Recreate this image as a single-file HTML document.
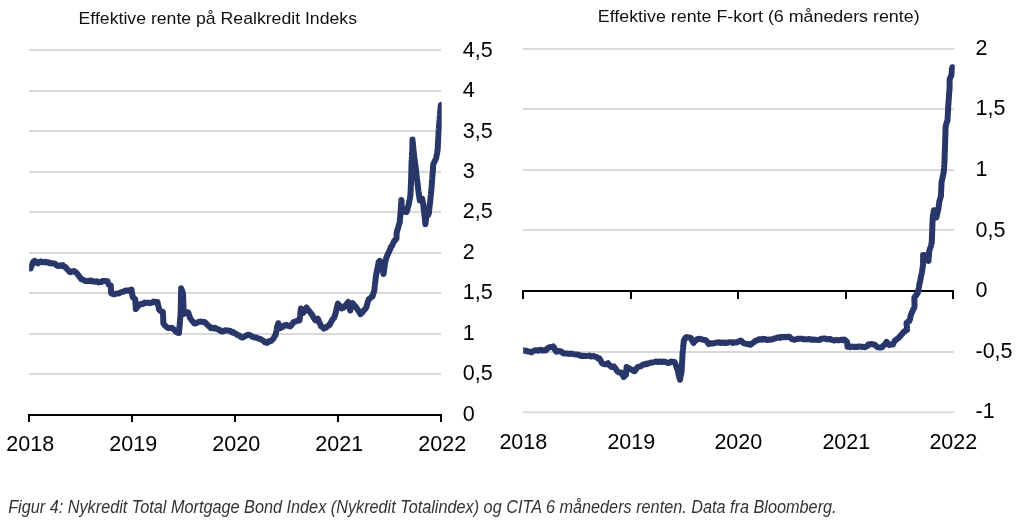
<!DOCTYPE html>
<html><head><meta charset="utf-8"><title>Figur 4</title>
<style>
html,body{margin:0;padding:0;background:#fff;}
body{width:1021px;height:526px;overflow:hidden;font-family:"Liberation Sans",sans-serif;}
svg{display:block;position:absolute;left:0;top:0;}
.tx{will-change:transform;}
text{font-family:"Liberation Sans",sans-serif;}
.ax{font-size:21.5px;fill:#000;}
.tt{font-size:16.2px;fill:#111;}
.cap{font-size:18px;font-style:italic;fill:#333;}
</style></head><body>
<svg width="1021" height="526" viewBox="0 0 1021 526">
<defs>
<clipPath id="cl"><rect x="29.1" y="40" width="412.6" height="390"/></clipPath>
<clipPath id="cr"><rect x="523.2" y="40" width="431.6" height="390"/></clipPath>
</defs>
<rect width="1021" height="526" fill="#fff"/>
<rect x="29" y="49.00" width="412" height="2" fill="#D9D9D9"/>
<rect x="29" y="90.00" width="412" height="2" fill="#D9D9D9"/>
<rect x="29" y="130.00" width="412" height="2" fill="#D9D9D9"/>
<rect x="29" y="171.00" width="412" height="2" fill="#D9D9D9"/>
<rect x="29" y="211.00" width="412" height="2" fill="#D9D9D9"/>
<rect x="29" y="252.00" width="412" height="2" fill="#D9D9D9"/>
<rect x="29" y="292.00" width="412" height="2" fill="#D9D9D9"/>
<rect x="29" y="333.00" width="412" height="2" fill="#D9D9D9"/>
<rect x="29" y="373.00" width="412" height="2" fill="#D9D9D9"/>
<rect x="28" y="414" width="414" height="2" fill="#000"/>
<rect x="28" y="414" width="2" height="8" fill="#000"/>
<rect x="131" y="414" width="2" height="8" fill="#000"/>
<rect x="234" y="414" width="2" height="8" fill="#000"/>
<rect x="337" y="414" width="2" height="8" fill="#000"/>
<rect x="440" y="414" width="2" height="8" fill="#000"/>
<g clip-path="url(#cl)"><path d="M30.6,268.4 L31.1,266.7 L31.6,265.8 L32.1,264.9 L32.6,263.5 L33.1,261.9 L34.7,260.8 L35.8,261.4 L36.9,262.6 L38.0,263.5 L39.4,262.4 L40.7,261.4 L42.2,261.8 L43.7,262.3 L45.2,261.8 L46.7,262.5 L48.2,262.2 L49.7,263.3 L51.3,263.0 L52.8,263.6 L54.3,263.5 L55.4,263.8 L56.4,265.1 L57.5,266.0 L58.9,266.0 L60.2,265.3 L61.5,265.9 L62.9,265.2 L64.0,266.7 L65.1,266.8 L66.2,267.9 L67.3,269.5 L68.4,270.4 L69.4,271.8 L70.5,272.2 L71.8,271.7 L73.0,271.2 L74.3,271.1 L75.2,272.0 L76.2,272.5 L77.1,273.6 L78.1,274.9 L78.9,275.9 L79.7,277.1 L80.5,277.9 L81.3,279.3 L82.6,279.5 L83.8,280.1 L85.1,280.9 L86.7,280.9 L88.4,280.7 L90.0,280.9 L91.4,280.5 L92.8,281.6 L94.2,281.4 L95.6,281.7 L97.0,281.3 L98.4,282.4 L99.8,282.0 L101.2,282.1 L102.5,281.0 L103.8,281.0 L105.2,280.9 L107.6,281.2 L108.1,283.1 L108.6,284.6 L110.8,285.6 L110.9,287.4 L110.9,289.2 L111.0,290.1 L111.0,292.1 L111.1,293.3 L112.8,294.0 L114.4,294.4 L115.8,293.7 L117.1,293.6 L118.5,293.5 L119.8,293.0 L121.2,292.2 L122.5,291.7 L124.0,291.5 L125.5,290.5 L127.1,290.5 L128.6,290.7 L130.1,290.1 L131.5,289.6 L131.7,290.9 L131.9,292.1 L132.2,293.9 L132.4,295.5 L132.6,296.7 L133.9,298.2 L135.3,299.4 L135.4,300.6 L135.4,302.1 L135.5,303.6 L135.6,305.2 L135.7,306.4 L135.7,307.6 L135.8,309.1 L136.9,307.8 L138.0,306.0 L139.1,305.3 L140.4,304.1 L141.8,304.2 L143.2,303.8 L144.5,302.6 L145.8,302.9 L147.2,302.8 L148.6,302.7 L149.9,303.2 L151.2,302.6 L152.4,302.6 L153.7,301.5 L155.6,302.1 L157.5,302.1 L157.8,303.7 L158.1,305.5 L158.5,306.4 L158.8,308.2 L159.1,309.7 L160.4,311.0 L161.6,311.3 L162.9,312.0 L163.0,313.4 L163.0,314.6 L163.1,316.4 L163.2,318.3 L163.2,318.6 L163.3,320.9 L163.3,322.4 L163.4,323.5 L164.5,325.0 L165.6,326.0 L166.7,327.1 L167.8,327.9 L169.1,327.9 L170.5,327.9 L171.8,327.8 L173.0,328.9 L174.3,329.6 L175.5,331.3 L177.2,332.6 L179.0,333.0 L179.1,331.7 L179.2,330.0 L179.3,329.0 L179.5,327.6 L179.6,326.1 L179.7,324.7 L179.8,323.6 L179.9,322.3 L180.0,321.0 L180.1,319.5 L180.3,317.6 L180.4,316.5 L180.5,315.1 L180.6,314.1 L180.6,312.8 L180.7,311.8 L180.7,310.4 L180.7,309.0 L180.8,307.7 L180.8,305.7 L180.8,305.0 L180.9,303.4 L180.9,301.4 L180.9,300.0 L180.9,298.6 L181.0,298.1 L181.0,296.2 L181.0,294.7 L181.1,293.9 L181.1,292.2 L181.1,290.5 L181.2,289.3 L181.2,288.3 L181.6,289.6 L182.1,290.5 L182.6,291.9 L183.0,293.4 L183.1,295.0 L183.1,296.1 L183.2,297.3 L183.2,298.9 L183.3,299.7 L183.3,301.5 L183.4,302.9 L183.4,304.0 L183.5,305.3 L183.5,307.6 L183.6,308.5 L183.6,309.6 L183.7,311.4 L183.7,313.0 L183.8,314.0 L185.2,312.9 L186.6,312.3 L188.0,312.2 L188.5,313.2 L188.9,315.1 L189.4,315.9 L189.9,317.6 L190.8,319.0 L191.6,320.2 L192.5,321.2 L193.3,322.0 L194.2,323.5 L195.7,323.4 L197.3,322.6 L198.8,321.7 L200.2,321.8 L201.7,321.5 L203.1,322.0 L204.5,321.9 L205.6,322.8 L206.6,324.1 L207.7,324.9 L208.7,326.2 L209.8,326.7 L210.8,328.2 L212.2,327.8 L213.7,328.4 L215.1,327.8 L216.3,328.8 L217.5,328.9 L218.8,330.1 L220.0,330.1 L221.2,331.4 L222.4,331.6 L223.7,331.2 L225.0,330.3 L226.4,330.4 L227.9,330.4 L229.3,330.9 L230.6,330.9 L231.9,332.4 L233.2,332.0 L234.5,333.4 L235.8,333.6 L237.0,334.9 L238.2,335.2 L239.4,335.5 L240.6,337.0 L241.8,337.4 L243.1,337.4 L244.4,336.5 L245.7,335.8 L247.0,335.1 L248.3,334.7 L249.6,335.1 L250.8,335.5 L252.1,336.6 L253.3,336.9 L254.6,337.5 L255.9,337.5 L257.2,337.8 L258.4,338.8 L259.7,338.8 L261.0,339.4 L262.3,340.2 L263.6,340.9 L265.0,342.3 L266.3,342.7 L267.6,342.7 L268.8,341.3 L270.1,341.1 L271.3,341.0 L272.2,339.6 L273.0,339.2 L273.9,337.8 L274.7,336.1 L275.6,335.1 L275.9,333.3 L276.1,332.4 L276.4,331.1 L276.7,329.8 L276.9,327.7 L277.2,326.4 L277.8,325.2 L278.3,323.2 L278.9,324.6 L279.4,325.6 L279.9,327.3 L280.5,328.0 L281.7,327.1 L282.9,327.0 L284.0,325.6 L285.2,325.1 L286.4,324.8 L287.7,325.8 L288.9,325.6 L290.2,326.4 L291.0,325.6 L291.9,324.4 L292.7,323.6 L293.5,322.1 L295.0,321.6 L296.4,321.1 L297.9,320.7 L299.4,320.5 L299.6,319.6 L299.8,317.9 L299.9,317.0 L300.1,315.6 L300.3,313.4 L300.5,312.6 L300.6,310.7 L300.8,309.3 L301.0,308.5 L301.7,309.5 L302.5,311.8 L303.2,312.9 L304.0,311.9 L304.9,310.6 L305.7,308.7 L306.5,307.5 L307.3,308.7 L308.1,310.0 L308.9,310.6 L309.7,311.9 L310.5,312.6 L311.3,314.0 L312.0,314.6 L312.8,315.9 L313.5,317.7 L314.2,318.4 L315.0,319.9 L315.7,320.5 L316.8,319.6 L317.8,318.8 L318.4,319.8 L318.9,321.6 L319.5,323.0 L320.0,323.3 L320.6,325.3 L321.1,326.4 L322.5,327.1 L323.8,328.6 L325.0,327.5 L326.2,327.7 L327.5,326.1 L328.7,325.9 L329.4,324.5 L330.2,324.1 L330.9,322.4 L331.6,320.9 L332.4,319.8 L333.1,318.7 L333.9,318.1 L334.6,316.7 L334.9,315.0 L335.3,314.6 L335.6,312.7 L335.9,312.0 L336.2,310.7 L336.6,308.7 L336.9,307.3 L337.2,306.3 L337.6,304.6 L337.9,303.7 L338.8,305.1 L339.8,305.6 L340.8,306.8 L341.7,308.5 L343.3,308.0 L344.9,306.4 L345.7,305.1 L346.5,304.3 L347.4,303.0 L348.2,302.0 L348.6,303.2 L348.9,304.4 L349.2,306.7 L349.6,308.2 L349.9,309.6 L350.3,310.5 L350.7,308.8 L351.0,307.7 L351.4,306.9 L351.8,306.0 L352.1,304.3 L352.5,303.0 L353.6,304.5 L354.7,305.7 L355.8,306.8 L356.6,307.8 L357.3,309.3 L358.1,310.3 L358.9,311.5 L359.6,312.5 L360.4,314.2 L361.3,312.9 L362.3,312.6 L363.2,310.9 L364.2,310.0 L365.2,308.9 L366.1,307.7 L366.5,306.9 L366.9,305.1 L367.3,303.8 L367.6,302.5 L368.0,301.3 L368.4,300.6 L368.8,299.0 L370.1,298.5 L371.3,297.0 L372.6,296.3 L373.0,294.6 L373.5,293.3 L373.9,291.9 L374.3,290.3 L374.5,289.0 L374.6,287.2 L374.8,285.6 L374.9,284.4 L375.1,282.8 L375.3,282.0 L375.4,280.0 L375.6,278.6 L375.7,277.8 L375.9,276.3 L376.1,274.8 L376.4,274.1 L376.6,272.4 L376.9,271.6 L377.1,269.5 L377.4,268.6 L377.6,267.7 L377.9,265.6 L378.1,265.3 L378.4,263.1 L378.6,262.2 L379.7,260.8 L381.5,262.5 L381.7,264.1 L381.9,265.6 L382.2,266.7 L382.4,267.5 L382.6,268.5 L382.8,270.2 L383.1,272.0 L383.3,272.6 L383.5,274.1 L383.7,273.2 L383.9,271.0 L384.1,270.5 L384.3,268.2 L384.4,267.2 L384.6,266.5 L384.8,265.0 L385.0,263.8 L385.2,262.0 L385.5,261.1 L385.9,259.7 L386.2,258.1 L386.7,257.1 L387.3,255.3 L387.8,254.4 L388.4,252.8 L388.9,252.2 L389.4,250.9 L390.0,249.3 L390.5,248.3 L391.1,246.6 L391.8,246.3 L392.4,244.9 L393.0,243.4 L393.7,242.1 L394.3,240.8 L395.4,240.1 L396.5,238.6 L396.5,237.1 L396.6,235.7 L396.6,234.2 L396.6,233.0 L397.0,231.4 L397.4,229.7 L397.8,229.0 L398.2,227.4 L398.6,226.2 L399.0,224.3 L399.4,223.2 L399.8,222.0 L399.9,220.2 L400.0,218.7 L400.1,217.4 L400.3,216.6 L400.4,214.7 L400.5,213.3 L400.6,212.0 L400.7,210.8 L400.8,209.0 L400.9,207.4 L401.0,206.7 L401.0,205.3 L401.1,204.1 L401.2,202.5 L401.3,201.4 L401.4,199.9 L401.5,201.6 L401.6,202.5 L401.6,204.2 L401.7,205.6 L401.8,206.8 L401.9,208.5 L402.9,210.0 L404.0,211.6 L406.5,212.2 L406.9,210.9 L407.3,210.0 L407.6,208.7 L408.0,206.7 L408.4,205.8 L408.8,204.3 L409.1,202.3 L409.3,200.9 L409.6,199.9 L409.9,198.8 L410.1,196.6 L410.4,195.5 L410.5,194.4 L410.5,193.2 L410.6,191.1 L410.7,190.2 L410.7,189.0 L410.8,187.1 L410.8,186.0 L410.9,184.7 L411.0,183.2 L411.0,182.1 L411.1,180.3 L411.1,179.4 L411.2,178.2 L411.2,176.5 L411.2,174.7 L411.3,173.5 L411.3,172.2 L411.3,171.3 L411.4,170.2 L411.4,168.1 L411.4,167.5 L411.5,166.2 L411.5,164.5 L411.5,163.4 L411.6,161.7 L411.6,160.8 L411.7,159.7 L411.8,157.6 L411.9,157.3 L412.0,155.7 L412.0,154.2 L412.1,152.4 L412.2,151.8 L412.3,150.0 L412.3,149.2 L412.4,147.0 L412.4,146.4 L412.4,145.2 L412.4,143.7 L412.4,142.4 L412.5,140.8 L412.5,139.6 L412.6,141.4 L412.8,142.7 L412.9,143.4 L413.0,145.1 L413.1,146.0 L413.2,147.0 L413.4,148.5 L413.5,150.0 L413.7,151.0 L413.8,153.3 L414.0,154.8 L414.1,155.3 L414.3,157.3 L414.4,158.5 L414.6,160.0 L414.8,160.9 L415.0,162.4 L415.1,163.6 L415.3,165.5 L415.5,166.0 L415.7,167.5 L415.8,169.0 L416.0,169.9 L416.2,171.7 L416.3,173.1 L416.5,174.4 L416.6,176.0 L416.8,176.6 L416.9,178.0 L417.1,179.6 L417.2,180.6 L417.4,182.3 L417.6,183.2 L417.7,185.0 L417.9,186.4 L418.0,187.7 L418.2,189.2 L418.3,190.0 L418.5,191.4 L418.7,192.6 L418.9,194.3 L419.1,195.5 L419.2,196.6 L419.4,197.7 L419.6,198.9 L419.8,200.5 L421.0,199.2 L422.2,198.8 L422.5,200.7 L422.8,201.5 L423.0,203.7 L423.3,205.0 L423.5,206.5 L423.6,208.4 L423.8,209.6 L424.0,211.2 L424.2,211.7 L424.3,213.6 L424.5,215.0 L424.6,216.4 L424.8,217.4 L424.9,218.9 L425.0,220.1 L425.1,221.6 L425.3,222.3 L425.4,224.2 L425.6,222.7 L425.8,221.3 L425.9,219.7 L426.1,218.3 L426.3,217.0 L427.1,216.1 L428.0,214.9 L428.8,213.5 L429.0,212.1 L429.1,210.8 L429.3,209.1 L429.5,207.5 L429.6,205.9 L429.8,205.0 L429.9,203.4 L430.1,202.4 L430.2,201.3 L430.3,199.9 L430.5,198.2 L430.6,197.4 L430.8,195.5 L430.9,194.5 L431.0,192.7 L431.2,191.7 L431.3,190.6 L431.4,188.5 L431.6,187.0 L431.7,186.0 L431.8,184.8 L431.9,183.3 L432.0,181.7 L432.1,180.0 L432.2,179.0 L432.3,177.7 L432.4,176.3 L432.5,175.4 L432.6,173.8 L432.7,172.6 L432.8,171.4 L432.9,169.8 L433.0,168.2 L433.1,167.1 L433.2,165.6 L433.3,164.1 L434.0,162.9 L434.6,161.5 L435.3,159.9 L436.0,158.7 L436.3,157.4 L436.5,155.9 L436.8,154.8 L437.1,153.2 L437.3,151.8 L437.6,150.0 L437.7,148.9 L437.8,147.6 L437.8,146.0 L437.9,144.3 L438.0,142.9 L438.1,142.0 L438.1,140.8 L438.2,139.1 L438.3,137.3 L438.4,136.7 L438.5,134.9 L438.5,133.5 L438.6,131.7 L438.7,130.8 L438.8,129.4 L438.9,128.2 L439.0,126.5 L439.1,125.0 L439.2,123.9 L439.4,121.8 L439.5,120.9 L439.6,120.0 L439.7,118.3 L439.8,116.7 L439.9,115.3 L440.0,114.3 L440.1,112.9 L440.2,111.2 L440.4,109.9 L440.5,109.3 L440.6,107.3 L440.7,105.8 L440.8,105.0" fill="none" stroke="#28366A" stroke-width="6" stroke-linejoin="round" stroke-linecap="round"/></g>
<rect x="523" y="48.00" width="431" height="2" fill="#D9D9D9"/>
<rect x="523" y="108.00" width="431" height="2" fill="#D9D9D9"/>
<rect x="523" y="169.00" width="431" height="2" fill="#D9D9D9"/>
<rect x="523" y="229.00" width="431" height="2" fill="#D9D9D9"/>
<rect x="523" y="351.00" width="431" height="2" fill="#D9D9D9"/>
<rect x="523" y="411.30" width="431" height="2" fill="#D9D9D9"/>
<rect x="522" y="290" width="432" height="2" fill="#000"/>
<rect x="522" y="290" width="2" height="9" fill="#000"/>
<rect x="630" y="290" width="2" height="9" fill="#000"/>
<rect x="737" y="290" width="2" height="9" fill="#000"/>
<rect x="845" y="290" width="2" height="9" fill="#000"/>
<rect x="952" y="290" width="2" height="9" fill="#000"/>
<g clip-path="url(#cr)"><path d="M521.0,350.4 L522.7,350.1 L524.3,350.9 L526.0,350.6 L527.2,351.3 L528.5,351.5 L530.0,351.7 L531.5,352.4 L532.9,351.4 L534.3,350.4 L535.6,350.3 L536.9,350.5 L538.3,350.7 L539.6,349.9 L540.9,349.8 L542.2,350.6 L543.6,350.2 L544.9,350.5 L546.2,350.2 L547.5,348.3 L548.9,347.5 L550.3,347.1 L551.8,347.0 L553.2,346.4 L554.0,347.5 L554.9,349.6 L555.7,350.9 L556.5,351.8 L558.1,351.0 L559.7,351.3 L560.9,351.3 L562.2,352.4 L563.4,353.4 L564.6,353.4 L566.0,353.4 L567.3,353.4 L568.6,353.8 L570.0,354.0 L571.3,353.6 L572.6,353.9 L573.9,354.2 L575.2,354.4 L576.5,354.5 L578.1,354.7 L579.8,355.3 L581.4,356.1 L583.0,355.8 L584.7,356.1 L586.3,356.1 L587.8,355.9 L589.3,355.6 L590.8,356.5 L592.3,356.2 L593.8,356.1 L595.2,356.8 L596.5,356.9 L597.9,358.3 L599.3,358.3 L600.0,359.9 L600.6,360.3 L601.3,361.8 L602.0,363.2 L603.3,363.8 L604.5,364.2 L605.8,364.3 L607.9,363.2 L609.0,364.9 L610.1,365.6 L611.2,367.0 L612.5,367.1 L613.9,366.4 L614.7,367.7 L615.5,368.3 L616.3,369.7 L617.1,371.1 L617.9,371.8 L619.5,372.5 L621.0,372.4 L621.7,373.6 L622.4,374.8 L623.0,375.3 L623.7,377.0 L624.8,375.7 L625.9,375.0 L626.0,374.0 L626.1,372.2 L626.2,370.6 L626.4,369.7 L626.5,368.5 L626.6,366.9 L627.8,367.8 L629.0,368.2 L630.2,369.0 L631.6,369.7 L633.1,370.5 L634.5,371.2 L635.4,370.2 L636.3,368.7 L637.2,367.4 L638.6,366.7 L640.1,366.3 L641.5,365.8 L642.7,364.7 L644.0,364.2 L645.2,364.4 L646.4,363.6 L647.7,363.9 L649.0,363.3 L650.3,362.8 L651.6,362.4 L652.9,362.5 L654.5,362.0 L656.2,361.4 L657.7,362.0 L659.2,361.8 L660.8,361.6 L662.3,362.0 L663.8,361.6 L665.2,361.8 L666.7,362.5 L668.1,363.0 L669.7,362.7 L671.3,361.4 L673.0,361.8 L674.6,362.0 L675.1,363.4 L675.7,364.5 L676.2,366.3 L676.8,368.1 L677.3,369.0 L677.6,369.8 L678.0,372.0 L678.3,373.4 L678.6,374.8 L679.0,376.0 L679.3,377.4 L679.7,378.5 L680.0,379.8 L680.3,378.4 L680.5,376.9 L680.8,375.0 L681.1,374.5 L681.3,372.7 L681.6,371.2 L681.7,369.6 L681.7,368.6 L681.8,367.3 L681.9,365.8 L682.0,364.5 L682.0,363.4 L682.1,362.2 L682.2,360.9 L682.3,359.5 L682.3,357.7 L682.4,356.6 L682.5,355.2 L682.6,354.4 L682.6,353.4 L682.7,351.7 L682.8,350.7 L683.0,349.3 L683.1,348.0 L683.2,346.0 L683.4,345.3 L683.5,343.7 L683.7,341.7 L683.8,340.8 L684.7,339.0 L685.6,337.7 L686.5,337.0 L687.9,337.6 L689.4,337.5 L690.8,338.1 L691.5,338.9 L692.1,340.7 L692.8,341.6 L693.5,343.0 L694.5,341.6 L695.4,340.7 L696.3,340.2 L697.3,339.2 L698.8,338.8 L700.2,339.0 L701.7,339.2 L703.1,339.8 L704.6,339.9 L706.0,340.3 L706.9,341.4 L707.8,342.8 L708.7,344.1 L710.6,343.3 L712.5,343.5 L713.9,343.2 L715.2,343.0 L716.5,342.5 L717.9,342.6 L719.2,342.2 L720.5,343.1 L721.8,342.7 L723.2,342.4 L724.5,342.9 L725.8,342.8 L727.2,343.1 L728.6,342.2 L730.0,342.2 L731.4,342.3 L732.8,342.9 L734.2,342.3 L735.6,342.6 L736.8,342.3 L738.0,341.7 L739.3,341.1 L740.5,340.5 L741.7,341.0 L742.9,342.6 L744.1,343.2 L745.3,343.7 L746.9,344.1 L748.6,344.1 L750.2,344.8 L751.4,344.1 L752.6,343.0 L753.8,342.3 L755.0,341.2 L756.2,340.5 L757.5,340.3 L758.8,339.3 L760.1,339.3 L761.4,339.7 L762.7,338.8 L764.1,339.5 L765.4,339.1 L766.8,340.0 L768.1,339.9 L769.6,339.4 L771.1,339.7 L772.7,339.2 L774.2,338.5 L775.7,338.3 L777.1,337.8 L778.6,337.2 L780.0,337.9 L781.4,336.7 L782.9,337.3 L784.3,336.7 L785.7,337.3 L787.0,337.0 L788.4,336.7 L789.8,337.2 L791.4,338.7 L793.0,339.4 L794.3,339.8 L795.6,339.4 L796.9,339.0 L798.2,338.8 L799.5,338.8 L801.0,338.8 L802.5,338.7 L804.1,339.4 L805.6,339.2 L807.1,339.4 L808.5,339.1 L809.9,339.1 L811.3,339.8 L812.6,339.5 L814.0,339.8 L815.4,339.6 L816.8,339.9 L818.2,340.1 L819.6,339.9 L821.0,338.7 L822.5,338.7 L823.9,338.6 L825.3,338.6 L826.6,339.3 L827.9,339.3 L829.2,339.0 L830.5,339.1 L831.7,339.8 L833.0,340.2 L834.3,340.5 L835.6,340.2 L837.0,339.9 L838.5,340.4 L840.0,340.1 L841.4,339.7 L842.8,340.2 L844.3,339.5 L845.6,340.4 L847.0,341.8 L847.2,343.7 L847.3,344.6 L847.5,346.7 L848.9,346.3 L850.2,347.2 L851.5,346.4 L852.9,346.7 L854.2,347.0 L855.5,346.8 L856.8,347.1 L858.1,346.6 L859.4,346.5 L860.7,346.5 L862.0,347.1 L863.3,346.8 L864.6,347.2 L865.9,346.7 L867.0,346.3 L868.1,344.6 L869.2,344.2 L870.6,344.4 L872.1,344.0 L873.5,344.5 L874.6,344.7 L875.7,345.5 L876.8,346.7 L878.2,347.4 L879.7,347.6 L881.1,347.5 L882.2,347.1 L883.2,345.7 L884.3,345.1 L885.0,344.1 L885.8,343.2 L886.5,341.8 L887.4,342.8 L888.3,344.1 L889.2,345.1 L891.1,344.5 L893.0,344.5 L893.7,342.6 L894.5,341.4 L895.2,340.2 L896.3,339.8 L897.4,338.6 L898.4,338.1 L899.5,336.7 L900.6,335.9 L901.5,334.4 L902.4,333.7 L903.3,332.1 L904.6,331.7 L905.8,330.1 L907.1,329.9 L907.0,328.7 L906.9,326.7 L906.7,325.3 L906.6,324.7 L906.5,322.9 L907.9,321.6 L909.3,321.3 L909.6,319.7 L910.0,319.3 L910.3,317.4 L910.7,315.8 L911.0,314.6 L911.4,313.7 L912.0,312.0 L912.6,311.2 L913.3,309.1 L913.9,308.6 L914.5,306.8 L914.5,305.4 L914.5,304.7 L914.5,303.4 L914.4,301.4 L914.4,300.0 L914.4,299.0 L914.4,297.7 L915.2,296.2 L916.0,295.7 L916.9,293.9 L917.7,293.3 L918.0,291.4 L918.2,291.1 L918.5,289.0 L918.8,288.0 L919.0,286.5 L919.3,285.0 L919.5,283.4 L919.8,282.5 L920.1,281.6 L920.3,280.3 L920.6,279.0 L920.9,276.7 L921.2,275.4 L921.5,274.5 L921.7,273.6 L922.0,271.7 L922.2,270.2 L922.4,268.9 L922.7,267.3 L922.9,265.4 L923.1,264.1 L923.1,262.8 L923.1,261.3 L923.1,259.9 L923.1,258.4 L923.1,257.3 L923.1,256.7 L923.1,254.9 L924.5,255.1 L925.8,255.4 L926.5,257.0 L927.1,258.4 L927.8,260.1 L928.5,261.0 L928.6,259.5 L928.7,258.1 L928.8,256.7 L928.9,255.4 L929.0,254.6 L929.1,253.3 L929.2,251.5 L929.6,250.0 L929.9,248.8 L930.3,247.8 L930.7,246.6 L931.1,245.3 L931.4,243.7 L931.8,242.7 L931.8,240.8 L931.9,239.7 L931.9,238.1 L932.0,237.2 L932.0,235.3 L932.1,233.9 L932.1,233.2 L932.2,231.4 L932.2,230.6 L932.3,228.9 L932.3,227.5 L932.4,226.5 L932.4,224.4 L932.5,223.5 L932.5,222.4 L932.6,220.3 L932.7,219.9 L932.7,217.7 L932.8,216.7 L933.0,215.7 L933.2,214.6 L933.5,213.2 L933.7,211.3 L933.9,210.2 L934.4,211.2 L934.9,213.1 L935.4,215.0 L935.9,215.8 L936.4,217.5 L936.7,216.5 L937.0,214.3 L937.3,213.8 L937.7,211.4 L938.0,210.3 L938.3,209.1 L938.5,208.0 L938.7,206.4 L938.9,205.0 L939.1,203.4 L939.3,201.5 L939.7,200.4 L940.1,199.0 L940.6,197.0 L941.0,196.0 L941.0,194.6 L941.1,192.9 L941.1,192.1 L941.2,190.7 L941.2,188.9 L941.3,187.3 L941.4,186.9 L941.4,185.4 L941.5,183.7 L941.5,182.3 L941.8,180.9 L942.1,179.9 L942.4,178.0 L942.8,176.6 L943.1,175.1 L943.4,173.6 L943.7,172.5 L943.8,170.6 L943.9,170.0 L944.0,168.4 L944.1,167.2 L944.2,165.3 L944.3,164.2 L944.4,162.7 L944.5,161.7 L944.5,159.9 L944.6,158.7 L944.6,158.0 L944.6,156.1 L944.7,154.8 L944.7,153.6 L944.8,151.9 L944.8,150.8 L944.9,148.9 L944.9,148.0 L945.0,146.6 L945.0,145.4 L945.1,143.7 L945.1,142.6 L945.2,141.0 L945.2,139.9 L945.3,138.0 L945.3,137.0 L945.3,135.6 L945.4,134.0 L945.4,132.8 L945.5,131.6 L945.5,130.7 L945.5,129.4 L945.6,127.3 L945.6,126.2 L946.1,125.0 L946.5,123.0 L947.0,121.6 L947.5,120.7 L947.6,119.3 L947.6,118.3 L947.7,116.1 L947.8,115.4 L947.9,114.1 L947.9,112.1 L948.0,111.1 L948.1,109.9 L948.1,108.0 L948.2,106.7 L948.3,105.5 L948.4,104.2 L948.5,102.6 L948.6,101.5 L948.7,100.1 L948.8,98.8 L948.9,96.9 L949.0,95.5 L949.1,93.6 L949.2,92.2 L949.4,90.7 L949.5,89.6 L949.6,88.0 L949.6,86.9 L949.6,84.6 L949.6,83.9 L949.6,82.5 L949.6,80.7 L949.6,79.4 L950.2,78.0 L950.9,76.2 L951.5,75.1 L951.6,73.8 L951.7,71.5 L951.8,71.1 L951.9,69.0 L952.4,67.2" fill="none" stroke="#28366A" stroke-width="6" stroke-linejoin="round" stroke-linecap="round"/></g>
</svg>
<svg class="tx" width="1021" height="526" viewBox="0 0 1021 526">
<text x="462.8" y="56.6" class="ax">4,5</text>
<text x="462.8" y="97.1" class="ax">4</text>
<text x="462.8" y="137.5" class="ax">3,5</text>
<text x="462.8" y="178.0" class="ax">3</text>
<text x="462.8" y="218.4" class="ax">2,5</text>
<text x="462.8" y="258.9" class="ax">2</text>
<text x="462.8" y="299.3" class="ax">1,5</text>
<text x="462.8" y="339.8" class="ax">1</text>
<text x="462.8" y="380.2" class="ax">0,5</text>
<text x="462.8" y="420.7" class="ax">0</text>
<text x="30.2" y="450.6" class="ax" text-anchor="middle">2018</text>
<text x="133.2" y="450.6" class="ax" text-anchor="middle">2019</text>
<text x="236.2" y="450.6" class="ax" text-anchor="middle">2020</text>
<text x="339.2" y="450.6" class="ax" text-anchor="middle">2021</text>
<text x="442.2" y="450.6" class="ax" text-anchor="middle">2022</text>
<text x="78.6" y="23.5" class="tt" textLength="278.4" lengthAdjust="spacingAndGlyphs">Effektive rente på Realkredit Indeks</text>
<text x="975.5" y="54.8" class="ax">2</text>
<text x="975.5" y="115.3" class="ax">1,5</text>
<text x="975.5" y="175.9" class="ax">1</text>
<text x="975.5" y="236.6" class="ax">0,5</text>
<text x="975.5" y="297.1" class="ax">0</text>
<text x="975.5" y="357.8" class="ax">-0,5</text>
<text x="975.5" y="418.4" class="ax">-1</text>
<text x="523.3" y="448.7" class="ax" text-anchor="middle">2018</text>
<text x="631.3" y="448.7" class="ax" text-anchor="middle">2019</text>
<text x="738.3" y="448.7" class="ax" text-anchor="middle">2020</text>
<text x="846.3" y="448.7" class="ax" text-anchor="middle">2021</text>
<text x="953.3" y="448.7" class="ax" text-anchor="middle">2022</text>
<text x="597.8" y="21.6" class="tt" textLength="321.8" lengthAdjust="spacingAndGlyphs">Effektive rente F-kort (6 måneders rente)</text>
<text x="8.2" y="512.6" class="cap" textLength="828.4" lengthAdjust="spacingAndGlyphs">Figur 4: Nykredit Total Mortgage Bond Index (Nykredit Totalindex) og CITA 6 måneders renten. Data fra Bloomberg.</text>
</svg>
</body></html>
